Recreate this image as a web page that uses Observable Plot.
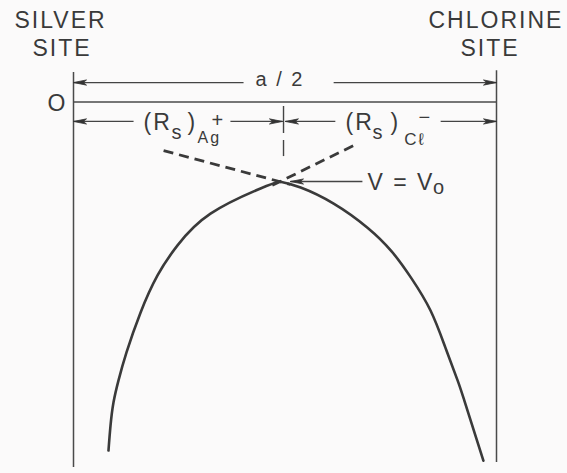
<!DOCTYPE html>
<html>
<head>
<meta charset="utf-8">
<script src="https://cdn.jsdelivr.net/npm/d3@7"></script>
<script src="https://cdn.jsdelivr.net/npm/@observablehq/plot@0.6"></script>
<style>
  html, body { margin: 0; padding: 0; background: #fbfafa; }
  #chart svg text { letter-spacing: 2px; }
</style>
</head>
<body>
<div id="chart"></div>
<script>
// Distance along the half cell: 0 = silver site, 100 = chlorine site (a/2).
// Potential V: 0 = reference level, negative downward, same unit as distance.

// Potential curve, silver-side branch (ends at the crossing point V = V0)
const silverBranchX = [8.27, 8.75, 9.46, 10.64, 12.53, 15.84, 19.86, 24.59, 32.39, 44.21, 48.7];
const silverBranchV = [-82.4, -76.5, -71.0, -65.8, -59.2, -49.8, -41.0, -33.9, -26.4, -20.45, -18.8];

// Potential curve, chlorine-side branch (starts at the crossing point)
const chlorineBranchX = [48.7, 53.7, 61.5, 69.5, 75.2, 79.9, 84.4, 87.9, 90.8, 92.4, 96.9];
const chlorineBranchV = [-18.8, -20.2, -24.0, -29.7, -35.3, -41.7, -49.3, -58.0, -65.8, -70.6, -84.8];

// Dashed continuations of each branch past the crossing point
const extensionX1 = [21.3, 47.0];
const extensionV1 = [-11.5, -19.7];
const extensionX2 = [51.3, 66.2];
const extensionV2 = [-19.5, -10.3];

// Ion sites (vertical boundaries)
const siteX = [0, 100];
const siteTopV = [7.0, 7.4];
const siteBottomV = [-86.4, -85.2];

// Reference level V = 0
const zeroLevelX = [0, 100];

// Dimension arrows: from tail to tip, the head sits at the tip
const arrowFromX = [40.2, 61.5, 14.2, 37.1, 61.9, 86.8, 68.3];
const arrowToX   = [0, 100, 0, 49.4, 50.1, 100, 51.3];
const arrowV     = [4.6, 4.6, -4.6, -4.6, -4.6, -4.6, -18.8];

// Boundary between the two sphere radii
const dividerX = 49.65;
const dividerTopV = [-1.06, -9.1];
const dividerBottomV = [-7.45, -12.9];

// Labels (left edge, vertical centre, font size)
const labelText = ["SILVER", "SITE", "CHLORINE", "SITE", "O", "a / 2",
                   "(R", "s", ")", "+", "Ag",
                   "(R", "s", ")", "\u2212", "C\u2113",
                   "V = V", "o"];
const labelX = [-13.95, -9.69, 83.92, 91.49, -6.15, 43.03,
                16.55, 23.17, 26.95, 32.62, 29.31,
                64.30, 70.69, 74.94, 81.56, 78.2,
                69.5, 85.0];
const labelV = [19.27, 12.65, 19.27, 12.65, -0.47, 5.32,
                -4.96, -7.21, -4.96, -4.37, -8.39,
                -4.96, -7.21, -4.96, -3.78, -8.87,
                -19.03, -20.33];
const labelSize = [23, 23, 23, 23, 23, 20,
                   23, 20, 23, 20, 16,
                   23, 20, 23, 20, 17,
                   23, 20];

const ink = "#3a3a3a";
const W = 567, H = 473;
const pxPerUnit = 4.23;
const xLeftPx = 73, zeroPx = 101.5;

const branches = [
  ...silverBranchX.map((x, i) => ({x, v: silverBranchV[i], side: "Ag"})),
  ...chlorineBranchX.map((x, i) => ({x, v: chlorineBranchV[i], side: "Cl"}))
];
const extensions = extensionX1.map((x1, i) => ({x1, v1: extensionV1[i], x2: extensionX2[i], v2: extensionV2[i]}));
const sites = siteX.map((x, i) => ({x, top: siteTopV[i], bottom: siteBottomV[i]}));
const arrows = arrowFromX.map((x1, i) => ({x1, x2: arrowToX[i], v: arrowV[i]}));
const dividers = dividerTopV.map((v1, i) => ({x: dividerX, v1, v2: dividerBottomV[i]}));
const labels = labelText.map((text, i) => ({text, x: labelX[i], v: labelV[i], size: labelSize[i]}));

// Filled arrowheads: narrow triangles at each arrow tip (x and V share one unit)
const headLen = 13 / pxPerUnit, headHalf = 2.6 / pxPerUnit;
const heads = arrows.flatMap((a, k) => {
  const dx = a.x2 - a.x1, len = Math.abs(dx);
  const ux = dx / len;
  const bx = a.x2 - headLen * ux;
  return [
    {k, x: a.x2, v: a.v},
    {k, x: bx, v: a.v + headHalf},
    {k, x: bx + 0.25 * headLen * ux, v: a.v},
    {k, x: bx, v: a.v - headHalf},
    {k, x: a.x2, v: a.v}
  ];
});

const chart = Plot.plot({
  width: W,
  height: H,
  margin: 0,
  style: {background: "#fbfafa", fontFamily: "'Liberation Sans', Arial, 'DejaVu Sans', sans-serif", color: ink},
  x: {domain: [0, 100], range: [xLeftPx, xLeftPx + 100 * pxPerUnit], axis: null},
  y: {domain: [(zeroPx - H) / pxPerUnit, zeroPx / pxPerUnit], range: [H, 0], axis: null},
  marks: [
    // site boundaries
    Plot.ruleX(sites, {x: "x", y1: "bottom", y2: "top", stroke: "#4a4a4a", strokeWidth: 1.5}),
    // reference level
    Plot.ruleY([0], {x1: zeroLevelX[0], x2: zeroLevelX[1], stroke: "#4a4a4a", strokeWidth: 1.5}),
    // dimension arrow shafts
    Plot.link(arrows, {x1: "x1", x2: "x2", y1: "v", y2: "v", stroke: "#444", strokeWidth: 1.3}),
    // arrowheads
    Plot.line(heads, {x: "x", y: "v", z: "k", fill: "#333", stroke: "#333", strokeWidth: 0.8, curve: "linear"}),
    // divider between the two radii
    Plot.ruleX(dividers, {x: "x", y1: "v1", y2: "v2", stroke: "#444", strokeWidth: 1.4}),
    // dashed continuations
    Plot.link(extensions, {x1: "x1", y1: "v1", x2: "x2", y2: "v2", stroke: ink, strokeWidth: 2.8, strokeDasharray: "10,6"}),
    // potential curve
    Plot.line(branches, {x: "x", y: "v", z: "side", stroke: ink, strokeWidth: 2.6, curve: "natural"}),
    // labels
    Plot.text(labels, {x: "x", y: "v", text: "text", fontSize: "size", textAnchor: "start", fill: ink})
  ]
});

document.getElementById("chart").appendChild(chart);
</script>
</body>
</html>
